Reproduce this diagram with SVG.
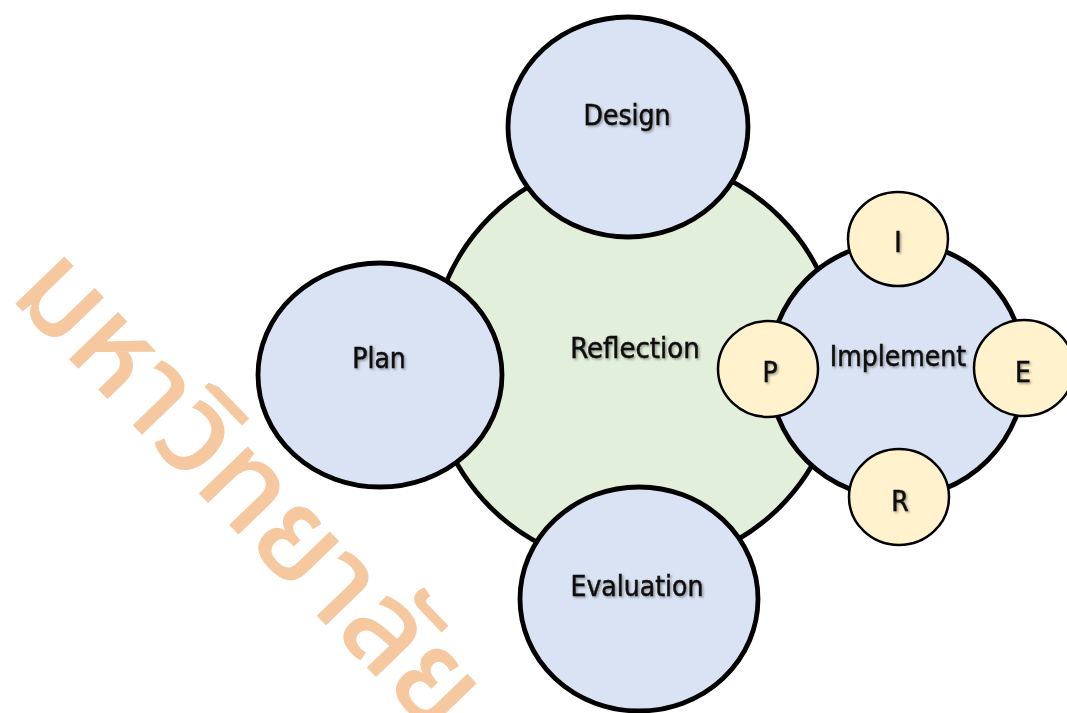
<svg xmlns="http://www.w3.org/2000/svg" width="1067" height="713" viewBox="0 0 1067 713">
  <defs>
    <filter id="ts" x="-10%" y="-30%" width="130%" height="170%">
      <feDropShadow dx="1.5" dy="1.5" stdDeviation="1.2" flood-color="#000" flood-opacity="0.35"/>
    </filter>
    <style>
      .big { stroke: #000; stroke-width: 4.8; }
      .small { stroke: #000; stroke-width: 2.5; }
      .blue { fill: #DAE3F3; }
      .green { fill: #E2EFDA; }
      .yellow { fill: #FFF2CC; }
      .lbl { font-family: "DejaVu Sans Condensed", "DejaVu Sans", "Liberation Sans", sans-serif; font-size: 28px; fill: #111; stroke: #111; stroke-width: 0.5; text-anchor: middle; filter: url(#ts); }
      .wm { font-family: "Noto Sans Thai", "Noto Sans", "DejaVu Sans", sans-serif; font-size: 124px; font-weight: 500; fill: #F5C8A0; }
    </style>
  </defs>
  <rect width="1067" height="713" fill="#fff"/>
  <g id="watermark">
    <text class="wm" transform="translate(8,296) rotate(46)" x="0" y="0">มหาวิทยาลัย</text>
  </g>
  <g id="connectors"></g>
  <g id="reflection">
    <circle class="big green" cx="635" cy="362" r="205"/>
    <text class="lbl" x="635" y="358" style="font-size:29px">Reflection</text>
  </g>
  <g id="design">
    <ellipse class="big blue" cx="628" cy="127" rx="120" ry="110"/>
    <text class="lbl" x="627" y="125">Design</text>
  </g>
  <g id="plan">
    <ellipse class="big blue" cx="380" cy="375" rx="122" ry="112"/>
    <text class="lbl" x="379" y="368">Plan</text>
  </g>
  <g id="evaluation">
    <ellipse class="big blue" cx="639" cy="599" rx="119" ry="112"/>
    <text class="lbl" x="637" y="596">Evaluation</text>
  </g>
  <g id="implement">
    <circle class="big blue" cx="897" cy="370" r="128"/>
    <text class="lbl" x="898" y="366">Implement</text>
  </g>
  <g id="i">
    <ellipse class="small yellow" cx="898" cy="239" rx="50" ry="47"/>
    <text class="lbl" x="898" y="252">I</text>
  </g>
  <g id="p">
    <ellipse class="small yellow" cx="768" cy="369" rx="50" ry="48"/>
    <text class="lbl" x="770" y="382">P</text>
  </g>
  <g id="e">
    <ellipse class="small yellow" cx="1024" cy="368" rx="50" ry="48"/>
    <text class="lbl" x="1023" y="382">E</text>
  </g>
  <g id="r">
    <ellipse class="small yellow" cx="899" cy="497" rx="50" ry="48"/>
    <text class="lbl" x="900" y="511">R</text>
  </g>
</svg>
